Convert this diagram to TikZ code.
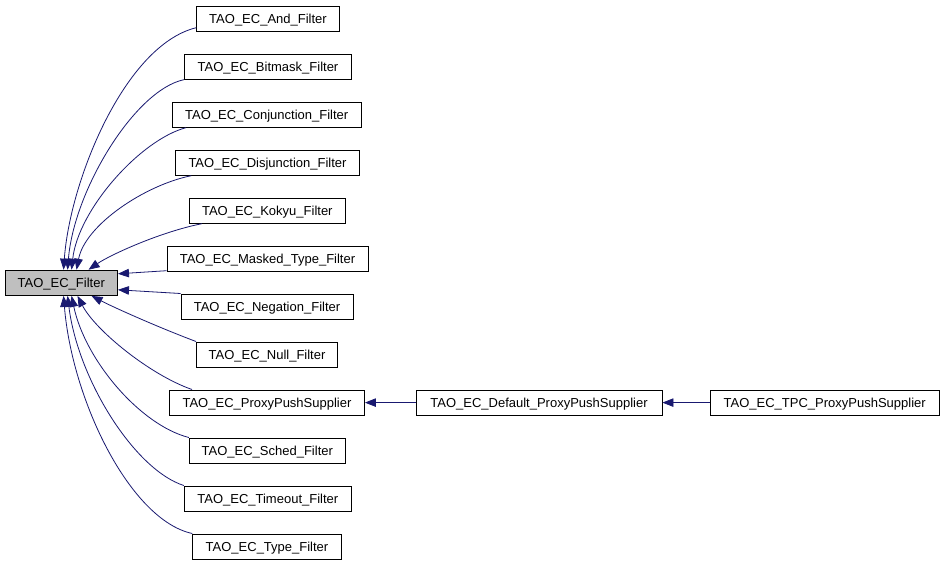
\documentclass[tikz,border=0pt]{standalone}
\usepackage{fontspec}
\setmainfont{Liberation Sans}
\usetikzlibrary{arrows.meta}
\definecolor{navy}{HTML}{191970}
\definecolor{boxgray}{HTML}{BFBFBF}
\tikzset{
  cls/.style={draw=black, line width=0.9pt, fill=white, inner sep=0pt, minimum height=25.3pt, text height=9.4pt, text depth=0pt, font=\fontsize{13pt}{15pt}\selectfont, text=black},
  cur/.style={cls, fill=boxgray},
  edge/.style={draw=navy, line width=0.8pt, {Triangle[length=11pt,width=8.5pt]}-}
}
\begin{document}
\begin{tikzpicture}[x=1pt,y=-1pt]
\useasboundingbox[fill=white] (0,0) rectangle (944,563);
\node[cur, minimum width=112.5pt] (f) at (61.25,282.8) {TAO\_EC\_Filter};
\node[cls, minimum width=142.6pt] (and) at (268,18.6) {TAO\_EC\_And\_Filter};
\node[cls, minimum width=167.4pt] (bit) at (268,66.6) {TAO\_EC\_Bitmask\_Filter};
\node[cls, minimum width=188.7pt] (conj) at (266.7,114.6) {TAO\_EC\_Conjunction\_Filter};
\node[cls, minimum width=183.6pt] (disj) at (267.5,162.6) {TAO\_EC\_Disjunction\_Filter};
\node[cls, minimum width=156pt] (kok) at (267.3,210.6) {TAO\_EC\_Kokyu\_Filter};
\node[cls, minimum width=201pt] (mask) at (267.5,258.6) {TAO\_EC\_Masked\_Type\_Filter};
\node[cls, minimum width=172pt] (neg) at (267,306.6) {TAO\_EC\_Negation\_Filter};
\node[cls, minimum width=141pt] (null) at (267,354.6) {TAO\_EC\_Null\_Filter};
\node[cls, minimum width=195pt] (pps) at (267,402.6) {TAO\_EC\_ProxyPushSupplier};
\node[cls, minimum width=156pt] (sched) at (267.3,450.6) {TAO\_EC\_Sched\_Filter};
\node[cls, minimum width=167pt] (tmo) at (267.8,498.6) {TAO\_EC\_Timeout\_Filter};
\node[cls, minimum width=148.6pt] (type) at (267,546.6) {TAO\_EC\_Type\_Filter};
\node[cls, minimum width=246pt] (def) at (539,402.6) {TAO\_EC\_Default\_ProxyPushSupplier};
\node[cls, minimum width=229.5pt] (tpc) at (824.7,402.6) {TAO\_EC\_TPC\_ProxyPushSupplier};
% upper edges
\draw[edge] ([xshift=59pt]f.north west) .. controls (70,180) and (125,45) .. ([yshift=4pt]and.south west);
\draw[edge] ([xshift=63pt]f.north west) .. controls (74,190) and (135,90) .. (bit.south west);
\draw[edge] ([xshift=67pt]f.north west) .. controls (78,210) and (140,140) .. ([xshift=14pt]conj.south west);
\draw[edge] ([xshift=72pt]f.north west) .. controls (85,225) and (145,185) .. ([xshift=16pt]disj.south west);
\draw[edge] ([xshift=84pt]f.north west) .. controls (110,255) and (160,232) .. ([xshift=13pt]kok.south west);
% side edges
\draw[edge] ([yshift=9pt]f.east) -- ([yshift=1pt]mask.south west);
\draw[edge] ([yshift=-7pt]f.east) -- (neg.north west);
% lower edges
\draw[edge] ([xshift=87pt]f.south west) .. controls (115,308) and (160,328) .. (null.north west);
\draw[edge] ([xshift=73pt]f.south west) .. controls (95,330) and (150,375) .. ([xshift=23pt]pps.north west);
\draw[edge] ([xshift=67pt]f.south west) .. controls (85,360) and (140,425) .. (sched.north west);
\draw[edge] ([xshift=63pt]f.south west) .. controls (78,380) and (135,470) .. (tmo.north west);
\draw[edge] ([xshift=59pt]f.south west) .. controls (72,400) and (130,520) .. (type.north west);
% chain
\draw[edge] (pps.east) -- (def.west);
\draw[edge] (def.east) -- (tpc.west);
\end{tikzpicture}
\end{document}
